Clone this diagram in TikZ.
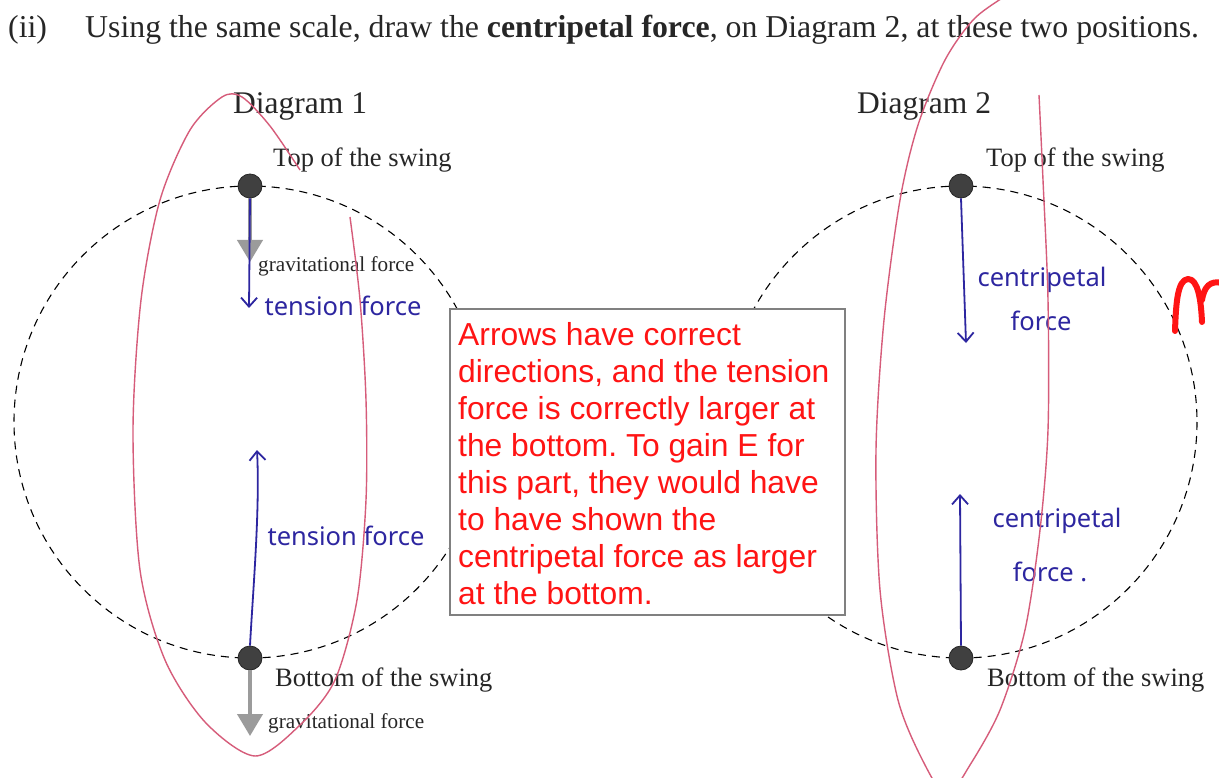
\documentclass[tikz,border=0pt]{standalone}
\usepackage{fontspec}
\setmainfont{Liberation Serif}
\newfontfamily\boxfont{Liberation Sans}
\newfontfamily\hand{Noto Sans}
\usetikzlibrary{arrows.meta}
\definecolor{handblue}{RGB}{45,38,160}
\definecolor{loopink}{RGB}{214,92,122}
\definecolor{notered}{RGB}{255,20,20}
\definecolor{boxgray}{RGB}{128,128,128}
\definecolor{ballgray}{RGB}{64,64,64}
\definecolor{gravgray}{RGB}{155,155,155}
\frenchspacing
\begin{document}
\begin{tikzpicture}[x=1pt,y=-1pt,
  swingpath/.style={dash pattern=on 8pt off 6pt, line width=1.1pt, black},
  ball/.style={circle, fill=ballgray, draw=black!85, line width=0.8pt, minimum size=24pt, inner sep=0pt},
  gravarrow/.style={gravgray, line width=4pt, -{Triangle[length=22pt,width=25pt]}},
  handarrow/.style={handblue, line width=1.8pt, -{Straight Barb[length=9pt,width=16pt]}},
  handtext/.style={handblue, inner sep=0pt, font=\hand\fontsize{25.5}{29}\selectfont},
  printlabel/.style={anchor=base west, inner sep=0pt, text=black!85},
  markloop/.style={loopink, line width=1.4pt},
]
\useasboundingbox (0,0) rectangle (1219,778);
\fill[white] (0,0) rectangle (1219,778);

% title
\node[printlabel, font=\fontsize{31.8}{36}\selectfont] (roman) at (8,38) {(ii)};
\node[printlabel, font=\fontsize{31.8}{36}\selectfont] (title) at (85,38) {Using the same scale, draw the \textbf{centripetal force}, on Diagram 2, at these two positions.};

% diagram headings
\node[printlabel, font=\fontsize{31.5}{36}\selectfont] (dia1) at (233,114) {Diagram 1};
\node[printlabel, font=\fontsize{31.5}{36}\selectfont] (dia2) at (857,114) {Diagram 2};

% swing paths
\draw[swingpath] (250,422) circle[radius=236];
\draw[swingpath] (961,422) circle[radius=236];

% balls
\node[ball] (t1) at (250,186) {};
\node[ball] (b1) at (250,658) {};
\node[ball] (t2) at (961,186) {};
\node[ball] (b2) at (961,658) {};

% position labels
\node[printlabel, font=\fontsize{26.5}{30}\selectfont] (top1) at (273,167) {Top of the swing};
\node[printlabel, font=\fontsize{26.5}{30}\selectfont] (bot1) at (275,686) {Bottom of the swing};
\node[printlabel, font=\fontsize{26.5}{30}\selectfont] (top2) at (986,167) {Top of the swing};
\node[printlabel, font=\fontsize{26.5}{30}\selectfont] (bot2) at (987,686) {Bottom of the swing};

% gravitational arrows
\coordinate (g1) at (250,262);
\coordinate (g2) at (250,736);
\draw[gravarrow] (t1.south) -- (g1);
\draw[gravarrow] (b1.south) -- (g2);
\node[printlabel, font=\fontsize{21.2}{26}\selectfont] (grav1) at (258,272) {gravitational force};
\node[printlabel, font=\fontsize{21.2}{26}\selectfont] (grav2) at (268,728) {gravitational force};

% handwritten arrows
\coordinate (ta1) at (249,308);
\coordinate (ba1) at (257,450);
\coordinate (ta2) at (966,343);
\coordinate (ba2) at (960,494);
\draw[handarrow] (t1.south) -- (ta1);
\draw[handarrow] (b1.north) .. controls (253,590) and (260,510) .. (ba1);
\draw[handarrow] (t2.south) -- (ta2);
\draw[handarrow] (b2.north) -- (ba2);

% handwritten labels
\node[handtext] (ten1) at (343,306) {tension force};
\node[handtext] (ten2) at (346,536) {tension force};
\node[handtext] (cen1a) at (1042,280) {centripetal};
\node[handtext] (cen1b) at (1041,321) {force};
\node[handtext] (cen2a) at (1057,521) {centripetal};
\node[handtext] (cen2b) at (1050,572) {force .};

% marker loops
\draw[markloop] plot[smooth] coordinates {(300,170) (270,126) (242,97) (222,97) (190,130) (160,200) (141,300) (133,430) (140,570) (165,660) (205,722) (255,756) (300,725) (335,680) (357,600) (366,500) (366,400) (360,300) (350,217)};
\draw[markloop] plot[smooth] coordinates {(1012,-8) (975,18) (945,60) (918,125) (900,200) (884,320) (876,450) (880,590) (898,700) (925,765) (947,795) (970,765) (1000,710) (1025,630) (1040,530) (1048,430) (1048,300) (1043,180) (1039,95)};

% note box
\node[draw=boxgray, line width=2pt, fill=white, minimum width=395pt, minimum height=306pt, inner sep=0pt] (box) at (647,462) {};
\node[anchor=north west, inner sep=0pt, align=left, text=notered, font=\boxfont\fontsize{31.8}{37}\selectfont] (note) at (458,322) {Arrows have correct\\directions, and the tension\\force is correctly larger at\\the bottom. To gain E for\\this part, they would have\\to have shown the\\centripetal force as larger\\at the bottom.};

% mark
\draw[notered, line width=6pt, line cap=round, line join=round] (1175,331) .. controls (1176,300) and (1178,280) .. (1188,279) .. controls (1198,279) and (1201,300) .. (1202,322);
\draw[notered, line width=6pt, line cap=round] (1202,300) .. controls (1204,287) and (1210,280) .. (1222,283);
\end{tikzpicture}
\end{document}
